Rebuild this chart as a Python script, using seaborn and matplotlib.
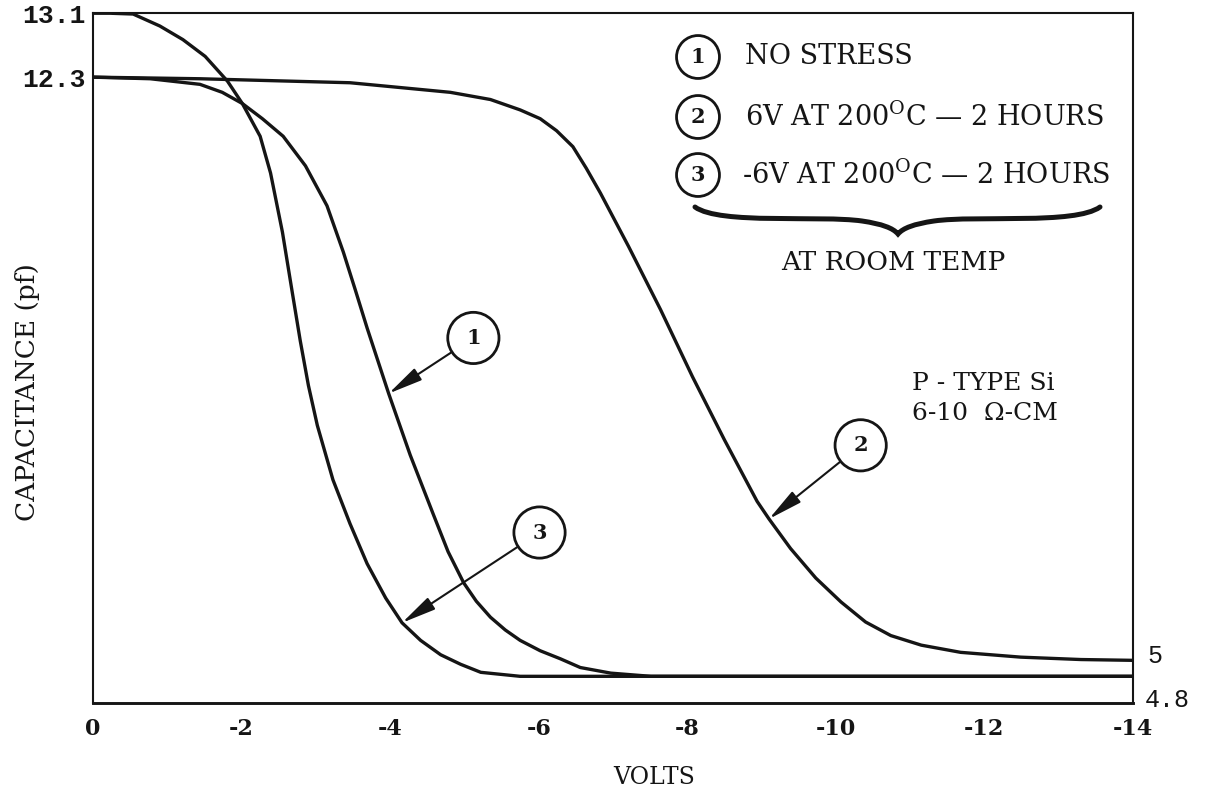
import matplotlib
matplotlib.use("Agg")
import matplotlib.pyplot as plt
import seaborn as sns
import pandas as pd
from matplotlib.path import Path
from matplotlib.patches import PathPatch

# ---------------- data ----------------
volts_no_stress = [0, -0.77, -1.44, -1.74, -2.01, -2.28, -2.56, -2.86, -3.15, -3.37, -3.53,
                   -3.69, -3.98, -4.27, -4.58, -4.78, -4.99, -5.16, -5.35, -5.55, -5.75,
                   -6.02, -6.29, -6.56, -6.97, -7.51, -10.0, -14.0]
cap_no_stress = [12.3, 12.28, 12.21, 12.11, 11.97, 11.78, 11.56, 11.19, 10.69, 10.11, 9.64,
                 9.16, 8.34, 7.57, 6.83, 6.36, 5.97, 5.74, 5.54, 5.38, 5.25,
                 5.12, 5.02, 4.91, 4.84, 4.8, 4.8, 4.8]

volts_pos_stress = [0, -1.44, -3.46, -4.81, -5.35, -5.75, -6.02, -6.24, -6.46, -6.64, -6.83,
                    -7.21, -7.64, -8.07, -8.50, -8.94, -9.10, -9.39, -9.73, -10.07, -10.40,
                    -10.74, -11.15, -11.68, -12.49, -13.30, -14.0]
cap_pos_stress = [12.3, 12.28, 12.23, 12.11, 12.02, 11.89, 11.78, 11.63, 11.43, 11.16, 10.85,
                  10.18, 9.39, 8.55, 7.76, 6.99, 6.77, 6.40, 6.03, 5.73, 5.48,
                  5.31, 5.19, 5.10, 5.04, 5.01, 5.0]

volts_neg_stress = [0, -0.23, -0.54, -0.90, -1.21, -1.51, -1.81, -2.01, -2.25, -2.39, -2.55,
                    -2.68, -2.79, -2.90, -3.02, -3.23, -3.46, -3.69, -3.94, -4.16, -4.41,
                    -4.68, -4.95, -5.22, -5.75, -10.0, -14.0]
cap_neg_stress = [13.1, 13.1, 13.09, 12.94, 12.77, 12.56, 12.25, 11.97, 11.56, 11.10, 10.36,
                  9.62, 9.00, 8.44, 7.94, 7.26, 6.71, 6.21, 5.78, 5.47, 5.25,
                  5.07, 4.95, 4.85, 4.8, 4.8, 4.8]

x_ticks = [0, -2, -4, -6, -8, -10, -12, -14]
x_tick_labels = ["0", "-2", "-4", "-6", "-8", "-10", "-12", "-14"]
y_ticks_left = [13.1, 12.3]
y_tick_labels_left = ["13.1", "12.3"]
right_labels = ["5", "4.8"]

legend_labels = ["NO STRESS",
                 r"6V AT 200$^{\mathrm{O}}$C — 2 HOURS",
                 r"-6V AT 200$^{\mathrm{O}}$C — 2 HOURS"]

# ---------------- style ----------------
sns.set_style("white")
plt.rcParams["font.family"] = ["DejaVu Serif"]
plt.rcParams["mathtext.fontset"] = "dejavuserif"
plt.rcParams["axes.unicode_minus"] = False

INK = "#151515"
W, H = 1205, 791
fig = plt.figure(figsize=(W / 100, H / 100), dpi=100)
fig.patch.set_facecolor("white")

ax_l, ax_r, ax_t, ax_b = 93, 1133, 13, 703
ax = fig.add_axes([ax_l / W, 1 - ax_b / H, (ax_r - ax_l) / W, (ax_b - ax_t) / H])
ax.set_facecolor("white")

for xs, ys in [(volts_no_stress, cap_no_stress),
               (volts_pos_stress, cap_pos_stress),
               (volts_neg_stress, cap_neg_stress)]:
    df = pd.DataFrame({"volts": xs, "cap": ys})
    sns.lineplot(data=df, x="volts", y="cap", ax=ax, color=INK, lw=2.4,
                 estimator=None, sort=False, legend=False)

ax.set_xlim(0, -14)
ax.set_ylim(4.466, 13.103)

ax.set_xticks(x_ticks)
ax.set_xticklabels(x_tick_labels, fontsize=16, fontweight="bold")
ax.tick_params(axis="x", direction="in", length=9, width=1.5, color=INK, pad=11,
               labelcolor=INK)
ax.set_yticks(y_ticks_left)
ax.set_yticklabels(y_tick_labels_left, fontsize=19, family="Liberation Mono",
                   fontweight="bold")
ax.tick_params(axis="y", length=0, pad=5, labelcolor=INK)
ax.set_xlabel("")
ax.set_ylabel("")

for name, sp in ax.spines.items():
    sp.set_visible(True)
    sp.set_color(INK)
    sp.set_linewidth(1.5)
ax.spines["bottom"].set_linewidth(2.1)


def fx(px):
    return px / W


def fy(py):
    return 1 - py / H


# right side labels
fig.text(fx(1155), fy(656), right_labels[0], fontsize=18, family="Liberation Mono",
         ha="center", va="center", color=INK)
fig.text(fx(1167), fy(700), right_labels[1], fontsize=18, family="Liberation Mono",
         ha="center", va="center", color=INK)

# axis titles
fig.text(fx(654), fy(778), "VOLTS", fontsize=17, ha="center", va="center", color=INK)
fig.text(fx(28), fy(392), "CAPACITANCE (pf)", fontsize=19, rotation=90,
         ha="center", va="center", color=INK)

# legend block
rows_y = [57, 117, 175]
for i, (lab, py) in enumerate(zip(legend_labels, rows_y)):
    fig.text(fx(698), fy(py), str(i + 1), fontsize=15, fontweight="bold",
             ha="center", va="center", color=INK,
             bbox=dict(boxstyle="circle,pad=0.55", fc="white", ec=INK, lw=2.0))
    fig.text(fx(745 if i < 2 else 742), fy(py), lab, fontsize=19.5,
             ha="left", va="center", color=INK)

# curly brace
brace_pts = [(695, 207), (720, 225), (820, 215), (862, 221),
             (882, 224), (893, 228), (898, 234),
             (903, 228), (914, 224), (934, 221),
             (976, 215), (1075, 225), (1100, 207)]
codes = [Path.MOVETO] + [Path.CURVE4] * 12
verts = [(fx(px), fy(py)) for px, py in brace_pts]
fig.patches.append(PathPatch(Path(verts, codes), transform=fig.transFigure,
                             fc="none", ec=INK, lw=3.6, capstyle="round"))
fig.text(fx(893), fy(262), "AT ROOM TEMP", fontsize=19, ha="center", va="center",
         color=INK)

# material note
fig.text(fx(912), fy(384), "P - TYPE Si", fontsize=18, ha="left", va="center", color=INK)
fig.text(fx(912), fy(414), "6-10  Ω-CM", fontsize=18, ha="left", va="center", color=INK)

# callouts with arrows
callouts = [
    ("1", volts_no_stress[12], cap_no_stress[12], (61, 40)),
    ("2", volts_pos_stress[16], cap_pos_stress[16], (66, 53)),
    ("3", volts_neg_stress[19], cap_neg_stress[19], (99, 65)),
]
for lab, xv, yv, off in callouts:
    ax.annotate(lab, xy=(xv, yv), xytext=off, textcoords="offset points",
                fontsize=15, fontweight="bold", ha="center", va="center", color=INK,
                bbox=dict(boxstyle="circle,pad=0.75", fc="white", ec=INK, lw=2.0),
                arrowprops=dict(arrowstyle="-|>,head_length=1.4,head_width=0.28",
                                color=INK, lw=1.5, shrinkA=0, shrinkB=0))

fig.savefig("out.png", dpi=100, facecolor="white")
